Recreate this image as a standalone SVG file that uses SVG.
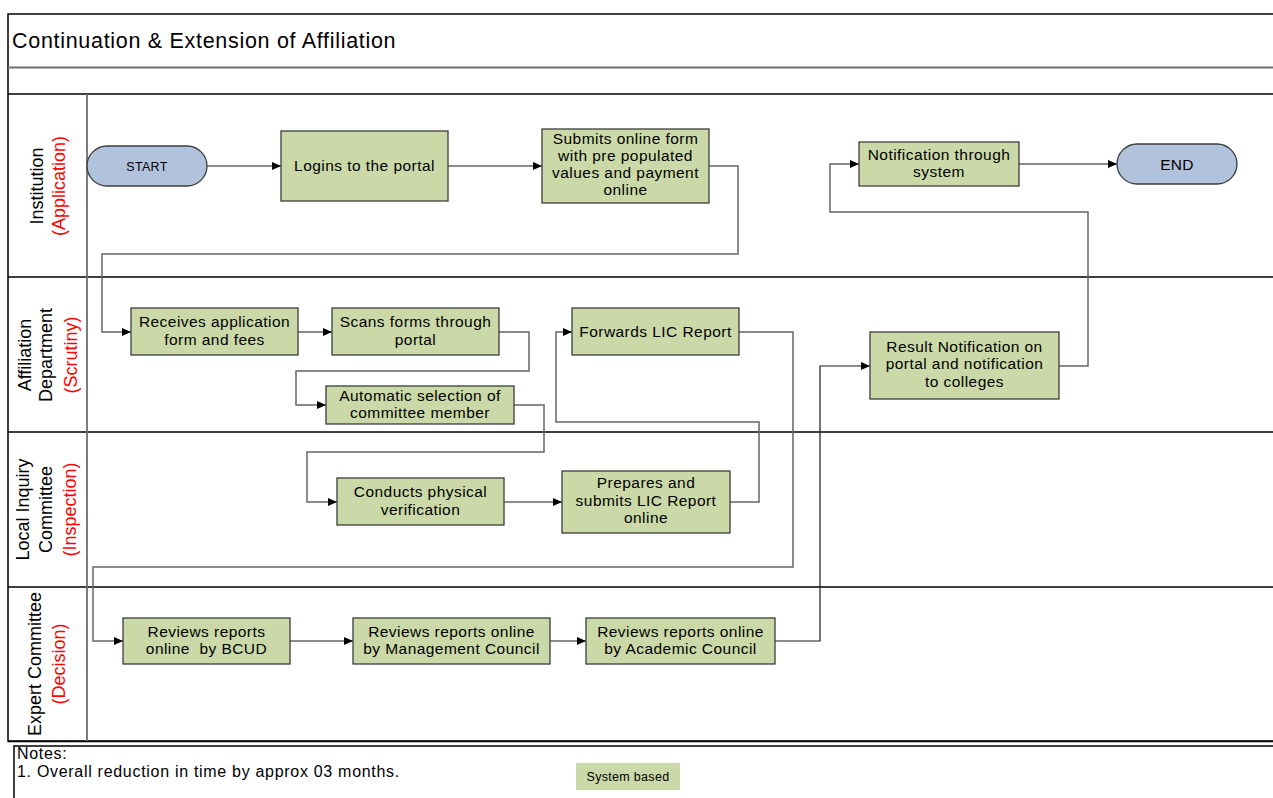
<svg xmlns="http://www.w3.org/2000/svg" width="1273" height="798" viewBox="0 0 1273 798">
  <style>
    text { font-family: "Liberation Sans", Arial, sans-serif; fill: #000; }
    .title { font-size: 21.5px; letter-spacing: 0.7px; }
    .lane { font-size: 18px; text-anchor: middle; }
    .lane .role { fill: #ff0000; }
    .step rect { fill: #cbd9a8; stroke: #3c3c3c; stroke-width: 1.3; }
    .step text { font-size: 15.5px; letter-spacing: 0.45px; text-anchor: middle; }
    .terminal rect { fill: #b1c2dc; stroke: #3c3c3c; stroke-width: 1.3; }
    .terminal text { text-anchor: middle; }
    .frame { stroke: #000; stroke-width: 1.5; fill: none; }
    .grey { stroke: #6e6e6e; stroke-width: 1.8; fill: none; }
    .conn path { fill: none; stroke: #1a1a1a; stroke-width: 1.2; }
    .conn path.long { stroke: #666; stroke-width: 1.5; }
    .notes { font-size: 16px; letter-spacing: 0.7px; }
  </style>
  <defs>
    <marker id="arrow" markerUnits="userSpaceOnUse" markerWidth="9" markerHeight="8" refX="9" refY="4" orient="auto">
      <path d="M0,0 L9,4 L0,8 z" fill="#000"/>
    </marker>
  </defs>

  <rect width="1273" height="798" fill="#fff"/>

  <!-- pool frame, title band and swimlane grid -->
  <g id="pool">
    <path class="frame" d="M1273,14 H8 V741 H1273"/>
    <path class="grey" d="M8,67.5 H1273"/>
    <path class="frame" d="M8,94 H1273"/>
    <path class="frame" d="M8,277 H1273"/>
    <path class="frame" d="M8,432 H1273"/>
    <path class="frame" d="M8,587 H1273" stroke-width="2"/>
    <path class="frame" d="M8,741.5 H1273" stroke-width="2"/>
    <path class="grey" d="M87,94 V741"/>
    <text class="title" x="12" y="48">Continuation &amp; Extension of Affiliation</text>
  </g>

  <!-- swimlane headers -->
  <g id="lane-institution" class="lane">
    <text transform="translate(43,186) rotate(-90)">Institution</text>
    <text class="role" transform="translate(65,186) rotate(-90)">(Application)</text>
  </g>
  <g id="lane-affiliation" class="lane">
    <text transform="translate(31,355) rotate(-90)">Affiliation</text>
    <text transform="translate(52,355) rotate(-90)">Department</text>
    <text class="role" transform="translate(77,355) rotate(-90)">(Scrutiny)</text>
  </g>
  <g id="lane-lic" class="lane">
    <text transform="translate(29,509.5) rotate(-90)">Local Inquiry</text>
    <text transform="translate(52,509.5) rotate(-90)">Committee</text>
    <text class="role" transform="translate(76,509.5) rotate(-90)">(Inspection)</text>
  </g>
  <g id="lane-expert" class="lane">
    <text transform="translate(41,664) rotate(-90)">Expert Committee</text>
    <text class="role" transform="translate(65,664) rotate(-90)">(Decision)</text>
  </g>

  <!-- connectors -->
  <g id="connectors" class="conn">
    <path d="M207,166 H281" marker-end="url(#arrow)"/>
    <path d="M448,166 H542" marker-end="url(#arrow)"/>
    <path class="long" d="M709,166 H738 V254 H102 V332 H131" marker-end="url(#arrow)"/>
    <path d="M298,332 H332" marker-end="url(#arrow)"/>
    <path class="long" d="M499,332 H529 V371 H296 V405 H326" marker-end="url(#arrow)"/>
    <path class="long" d="M514,405 H544 V452 H307 V502 H337" marker-end="url(#arrow)"/>
    <path d="M504,502 H562" marker-end="url(#arrow)"/>
    <path class="long" d="M730,502 H759 V422 H556 V332 H572" marker-end="url(#arrow)"/>
    <path class="long" d="M739,332 H793 V567 H93 V641 H123" marker-end="url(#arrow)"/>
    <path d="M290,641 H353" marker-end="url(#arrow)"/>
    <path d="M550,641 H586" marker-end="url(#arrow)"/>
    <path d="M775,641 H820 V366 H870" marker-end="url(#arrow)"/>
    <path class="long" d="M1059,366 H1088 V212 H830 V164 H859" marker-end="url(#arrow)"/>
    <path d="M1019,164 H1048 V164 H1117" marker-end="url(#arrow)"/>
  </g>

  <!-- nodes -->
  <g id="start" class="terminal">
    <rect x="87" y="146" width="120" height="40" rx="20"/>
    <text x="147" y="170.5" font-size="12.5" letter-spacing="0.3">START</text>
  </g>
  <g id="logins" class="step">
    <rect x="281" y="131" width="167" height="70"/>
    <text x="364.5" y="171">Logins to the portal</text>
  </g>
  <g id="submits" class="step">
    <rect x="542" y="129" width="167" height="74"/>
    <text x="625.5" y="143.5">Submits online form</text>
    <text x="625.5" y="160.8">with pre populated</text>
    <text x="625.5" y="178.1">values and payment</text>
    <text x="625.5" y="195.4">online</text>
  </g>
  <g id="notification" class="step">
    <rect x="859" y="142" width="160" height="44"/>
    <text x="939" y="159.5">Notification through</text>
    <text x="939" y="177">system</text>
  </g>
  <g id="end" class="terminal">
    <rect x="1117" y="144" width="120" height="40" rx="20"/>
    <text x="1177" y="169.5" font-size="15.5" letter-spacing="0.3">END</text>
  </g>
  <g id="receives" class="step">
    <rect x="131" y="308" width="167" height="47"/>
    <text x="214.5" y="327.2">Receives application</text>
    <text x="214.5" y="344.9">form and fees</text>
  </g>
  <g id="scans" class="step">
    <rect x="332" y="308" width="167" height="47"/>
    <text x="415.5" y="327.2">Scans forms through</text>
    <text x="415.5" y="344.9">portal</text>
  </g>
  <g id="automatic" class="step">
    <rect x="326" y="386" width="188" height="38"/>
    <text x="420" y="400.8">Automatic selection of</text>
    <text x="420" y="418.4">committee member</text>
  </g>
  <g id="forwards" class="step">
    <rect x="572" y="308" width="167" height="47"/>
    <text x="655.5" y="337">Forwards LIC Report</text>
  </g>
  <g id="result" class="step">
    <rect x="870" y="332" width="189" height="67"/>
    <text x="964.5" y="351.5">Result Notification on</text>
    <text x="964.5" y="369.2">portal and notification</text>
    <text x="964.5" y="386.9">to colleges</text>
  </g>
  <g id="conducts" class="step">
    <rect x="337" y="478" width="167" height="47"/>
    <text x="420.5" y="497.2">Conducts physical</text>
    <text x="420.5" y="514.9">verification</text>
  </g>
  <g id="prepares" class="step">
    <rect x="562" y="471" width="168" height="62"/>
    <text x="646" y="488">Prepares and</text>
    <text x="646" y="505.7">submits LIC Report</text>
    <text x="646" y="523.4">online</text>
  </g>
  <g id="bcud" class="step">
    <rect x="123" y="618" width="167" height="46"/>
    <text x="206.5" y="636.7" xml:space="preserve">Reviews reports</text>
    <text x="206.5" y="654.4" xml:space="preserve">online  by BCUD</text>
  </g>
  <g id="management" class="step">
    <rect x="353" y="618" width="197" height="46"/>
    <text x="451.5" y="636.7">Reviews reports online</text>
    <text x="451.5" y="654.4">by Management Council</text>
  </g>
  <g id="academic" class="step">
    <rect x="586" y="618" width="189" height="46"/>
    <text x="680.5" y="636.7">Reviews reports online</text>
    <text x="680.5" y="654.4">by Academic Council</text>
  </g>

  <!-- notes strip with legend -->
  <g id="notes">
    <path class="frame" d="M1273,746 H14 V798" stroke-width="1.3"/>
    <text class="notes" x="17" y="759">Notes:</text>
    <text class="notes" x="17" y="777">1. Overall reduction in time by approx 03 months.</text>
    <rect x="576" y="763" width="104" height="27" fill="#cbd9a8"/>
    <text x="628" y="780.5" font-size="12.5" letter-spacing="0.3" text-anchor="middle">System based</text>
  </g>
</svg>
